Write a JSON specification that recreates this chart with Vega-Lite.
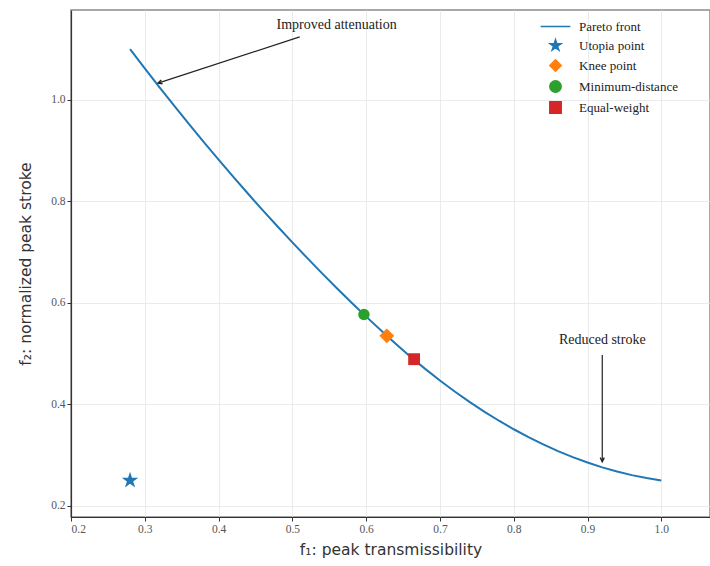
{
  "$schema": "https://vega.github.io/schema/vega-lite/v6.json",
  "width": 639,
  "height": 507,
  "autosize": {"type": "none"},
  "padding": {"left": 71, "top": 10, "right": 0, "bottom": 49},
  "background": "white",
  "config": {
    "view": {"stroke": "#8a8a8a", "strokeWidth": 1.5},
    "axis": {
      "grid": true,
      "gridColor": "#e6e6e6",
      "gridWidth": 0.8,
      "labelFont": "Liberation Serif",
      "labelFontSize": 11.5,
      "labelColor": "#555",
      "tickColor": "#333",
      "tickSize": 4,
      "domainColor": "#333",
      "domainWidth": 1.2,
      "titleFont": "DejaVu Sans",
      "titleFontSize": 15.5,
      "titleFontWeight": "normal",
      "titleColor": "#333"
    }
  },
  "datasets": {
    "front": [
      {"x": 0.28, "y": 1.1}, {"x": 0.30, "y": 1.062}, {"x": 0.32, "y": 1.0247}, {"x": 0.34, "y": 0.9881},
      {"x": 0.36, "y": 0.9521}, {"x": 0.38, "y": 0.9168}, {"x": 0.40, "y": 0.8822}, {"x": 0.42, "y": 0.8482},
      {"x": 0.44, "y": 0.8149}, {"x": 0.46, "y": 0.7823}, {"x": 0.48, "y": 0.7504}, {"x": 0.50, "y": 0.7191},
      {"x": 0.52, "y": 0.6885}, {"x": 0.54, "y": 0.6586}, {"x": 0.56, "y": 0.6293}, {"x": 0.58, "y": 0.6007},
      {"x": 0.60, "y": 0.5728}, {"x": 0.628, "y": 0.535}, {"x": 0.64, "y": 0.5192}, {"x": 0.66, "y": 0.4939},
      {"x": 0.68, "y": 0.4699}, {"x": 0.70, "y": 0.447}, {"x": 0.72, "y": 0.4253}, {"x": 0.74, "y": 0.4049},
      {"x": 0.76, "y": 0.3857}, {"x": 0.78, "y": 0.3677}, {"x": 0.80, "y": 0.3509}, {"x": 0.82, "y": 0.3354},
      {"x": 0.84, "y": 0.321}, {"x": 0.86, "y": 0.3079}, {"x": 0.88, "y": 0.296}, {"x": 0.90, "y": 0.2853},
      {"x": 0.92, "y": 0.2758}, {"x": 0.94, "y": 0.2675}, {"x": 0.96, "y": 0.2605}, {"x": 0.98, "y": 0.2547},
      {"x": 1.0, "y": 0.25}
    ],
    "pts": [
      {"series": "Utopia point", "x": 0.28, "y": 0.25},
      {"series": "Knee point", "x": 0.628, "y": 0.535},
      {"series": "Minimum-distance", "x": 0.597, "y": 0.577},
      {"series": "Equal-weight", "x": 0.665, "y": 0.489}
    ],
    "arrows": [
      {"name": "att", "label": "Improved attenuation", "tx": 0.56, "ty": 1.148, "x0": 0.51, "y0": 1.124, "x1": 0.318, "y1": 1.033},
      {"name": "str", "label": "Reduced stroke", "tx": 0.92, "ty": 0.527, "x0": 0.92, "y0": 0.497, "x1": 0.92, "y1": 0.287}
    ]
  },
  "layer": [
    {
      "data": {"name": "front"},
      "mark": {"type": "line", "color": "#1f77b4", "strokeWidth": 2},
      "encoding": {
        "x": {
          "field": "x", "type": "quantitative",
          "scale": {"domain": [0.2, 1.066], "nice": false, "zero": false},
          "axis": {"values": [0.2, 0.3, 0.4, 0.5, 0.6, 0.7, 0.8, 0.9, 1.0], "format": ".1f", "title": "f₁: peak transmissibility", "titlePadding": 8}
        },
        "y": {
          "field": "y", "type": "quantitative",
          "scale": {"domain": [0.178, 1.177], "nice": false, "zero": false},
          "axis": {"values": [0.2, 0.4, 0.6, 0.8, 1.0], "format": ".1f", "title": "f₂: normalized peak stroke", "titlePadding": 17}
        }
      }
    },
    {
      "data": {"name": "pts"},
      "transform": [{"filter": "datum.series === 'Utopia point'"}],
      "mark": {"type": "point", "filled": true, "opacity": 1, "size": 300},
      "encoding": {
        "x": {"field": "x", "type": "quantitative"},
        "y": {"field": "y", "type": "quantitative"},
        "color": {"field": "series", "type": "nominal"},
        "shape": {"field": "series", "type": "nominal"}
      }
    },
    {
      "data": {"name": "pts"},
      "transform": [{"filter": "datum.series === 'Knee point'"}],
      "mark": {"type": "point", "filled": true, "opacity": 1, "size": 220},
      "encoding": {
        "x": {"field": "x", "type": "quantitative"},
        "y": {"field": "y", "type": "quantitative"},
        "color": {"field": "series", "type": "nominal"},
        "shape": {"field": "series", "type": "nominal"}
      }
    },
    {
      "data": {"name": "pts"},
      "transform": [{"filter": "datum.series === 'Minimum-distance'"}],
      "mark": {"type": "point", "filled": true, "opacity": 1, "size": 130},
      "encoding": {
        "x": {"field": "x", "type": "quantitative"},
        "y": {"field": "y", "type": "quantitative"},
        "color": {"field": "series", "type": "nominal"},
        "shape": {"field": "series", "type": "nominal"}
      }
    },
    {
      "data": {"name": "pts"},
      "transform": [{"filter": "datum.series === 'Equal-weight'"}],
      "mark": {"type": "point", "filled": true, "opacity": 1, "size": 140},
      "encoding": {
        "x": {"field": "x", "type": "quantitative"},
        "y": {"field": "y", "type": "quantitative"},
        "color": {
          "field": "series", "type": "nominal",
          "scale": {
            "domain": ["Pareto front", "Utopia point", "Knee point", "Minimum-distance", "Equal-weight"],
            "range": ["#1f77b4", "#1f77b4", "#ff7f0e", "#2ca02c", "#d62728"]
          },
          "legend": {
            "orient": "none",
            "legendX": 478,
            "legendY": 10,
            "title": null,
            "padding": 0,
            "symbolSize": 130,
            "labelFont": "Liberation Serif",
            "labelFontSize": 13,
            "labelColor": "#222",
            "labelOffset": 17,
            "rowPadding": 2,
            "symbolOpacity": 1,
            "encode": {
              "symbols": {
                "update": {
                  "size": {"value": 130},
                  "stroke": {"scale": "color", "field": "value"},
                  "strokeWidth": {"value": 1.5}
                }
              }
            }
          }
        },
        "shape": {
          "field": "series", "type": "nominal",
          "scale": {
            "domain": ["Pareto front", "Utopia point", "Knee point", "Minimum-distance", "Equal-weight"],
            "range": [
              "M-2.6,0L2.6,0",
              "M0,-1L0.2245,-0.309L0.9511,-0.309L0.3633,0.118L0.5878,0.809L0,0.382L-0.5878,0.809L-0.3633,0.118L-0.9511,-0.309L-0.2245,-0.309Z",
              "diamond",
              "circle",
              "square"
            ]
          }
        }
      }
    },
    {
      "data": {"name": "arrows"},
      "mark": {"type": "rule", "color": "#222", "strokeWidth": 1.2},
      "encoding": {
        "x": {"field": "x0", "type": "quantitative"},
        "y": {"field": "y0", "type": "quantitative"},
        "x2": {"field": "x1"},
        "y2": {"field": "y1"}
      }
    },
    {
      "data": {"name": "arrows"},
      "transform": [{"filter": "datum.name === 'att'"}],
      "mark": {"type": "point", "shape": "M-1,-0.5L0,0L-1,0.5", "filled": false, "stroke": "#222", "strokeWidth": 1.4, "size": 64, "angle": 162, "opacity": 1},
      "encoding": {
        "x": {"field": "x1", "type": "quantitative"},
        "y": {"field": "y1", "type": "quantitative"}
      }
    },
    {
      "data": {"name": "arrows"},
      "transform": [{"filter": "datum.name === 'str'"}],
      "mark": {"type": "point", "shape": "M-1,-0.5L0,0L-1,0.5", "filled": false, "stroke": "#222", "strokeWidth": 1.4, "size": 64, "angle": 90, "opacity": 1},
      "encoding": {
        "x": {"field": "x1", "type": "quantitative"},
        "y": {"field": "y1", "type": "quantitative"}
      }
    },
    {
      "data": {"name": "arrows"},
      "mark": {"type": "text", "font": "Liberation Serif", "fontSize": 14, "color": "#222", "align": "center", "baseline": "middle"},
      "encoding": {
        "x": {"field": "tx", "type": "quantitative"},
        "y": {"field": "ty", "type": "quantitative"},
        "text": {"field": "label"}
      }
    }
  ]
}
